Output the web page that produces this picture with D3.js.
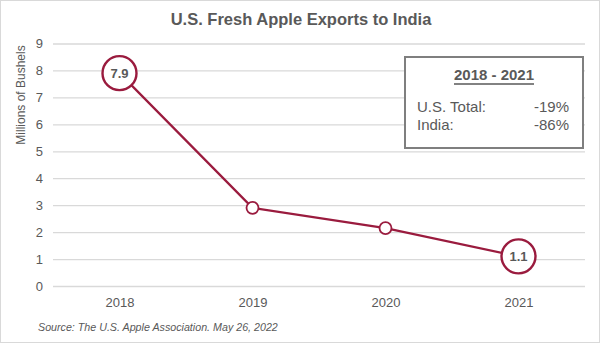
<!DOCTYPE html>
<html><head><meta charset="utf-8">
<script src="https://cdn.jsdelivr.net/npm/d3@7"></script>
<style>body{margin:0;background:#fff;}svg{display:block;font-family:Arial,"Liberation Sans",sans-serif;}</style>
</head><body>
<svg id="c" width="600" height="343"></svg>
<script>
const years = ["2018","2019","2020","2021"];
const exportsIndia = [7.9, 2.9, 2.15, 1.1];
const labelled = [true, false, false, true];
const yTicks = [0,1,2,3,4,5,6,7,8,9];
const boxTitle = "2018 - 2021";
const boxRows = [["U.S. Total:", "-19%"], ["India:", "-86%"]];

const svg = d3.select("#c");
const W = 600, H = 343;
const red = "#9a1b3e", grey = "#595959";
svg.append("rect").attr("x",0.5).attr("y",0.5).attr("width",W-1).attr("height",H-1)
  .attr("fill","#fff").attr("stroke","#d9d9d9");

const x = d3.scalePoint().domain(years).range([53,585]).padding(0.5);
const y = d3.scaleLinear().domain([0,9]).range([286,43.5]);

svg.append("text").attr("x",301).attr("y",25).attr("text-anchor","middle")
  .attr("font-size",16.5).attr("font-weight","bold").attr("fill",grey).text("U.S. Fresh Apple Exports to India");

const gy = svg.append("g").attr("transform","translate(53,0)")
  .call(d3.axisLeft(y).tickValues(yTicks).tickSize(-532).tickFormat(d3.format("d")).tickPadding(10));
gy.select(".domain").remove();
gy.selectAll(".tick line").attr("stroke","#d9d9d9").attr("stroke-width",1.3);
gy.selectAll(".tick text").attr("fill",grey).attr("font-size",13).attr("font-family","Arial,'Liberation Sans',sans-serif");

const gx = svg.append("g").attr("transform","translate(0,286)")
  .call(d3.axisBottom(x).tickSize(0).tickPadding(12));
gx.select(".domain").remove();
gx.selectAll(".tick text").attr("fill",grey).attr("font-size",13).attr("font-family","Arial,'Liberation Sans',sans-serif");

svg.append("text").attr("transform","translate(25,95) rotate(-90)").attr("text-anchor","middle")
  .attr("font-size",12).attr("fill",grey).text("Millions of Bushels");

const data = years.map((yr,i)=>({yr, v:exportsIndia[i], lab:labelled[i]}));
svg.append("path").datum(data).attr("fill","none").attr("stroke",red).attr("stroke-width",2.2)
  .attr("d", d3.line().x(d=>x(d.yr)).y(d=>y(d.v)));
svg.selectAll("circle.pt").data(data).join("circle").attr("class","pt")
  .attr("cx",d=>x(d.yr)).attr("cy",d=>y(d.v)).attr("r",d=>d.lab?17:6)
  .attr("fill","#fff").attr("stroke",red).attr("stroke-width",d=>d.lab?2.4:1.8);
svg.selectAll("text.lab").data(data.filter(d=>d.lab)).join("text").attr("class","lab")
  .attr("x",d=>x(d.yr)).attr("y",d=>y(d.v)+4.5).attr("text-anchor","middle")
  .attr("font-size",13).attr("font-weight","bold").attr("fill",grey).text(d=>d.v.toFixed(1));

const bx = 405, by = 57, bw = 178, bh = 91;
svg.append("rect").attr("x",bx).attr("y",by).attr("width",bw).attr("height",bh)
  .attr("fill","#fff").attr("stroke","#7f7f7f").attr("stroke-width",2);
const tt = svg.append("text").attr("x",bx+bw/2).attr("y",by+23).attr("text-anchor","middle")
  .attr("font-size",15).attr("font-weight","bold").attr("fill",grey).text(boxTitle);
const tw = tt.node().getComputedTextLength();
svg.append("line").attr("x1",bx+bw/2-tw/2).attr("x2",bx+bw/2+tw/2).attr("y1",by+27).attr("y2",by+27)
  .attr("stroke",grey).attr("stroke-width",1.3);
boxRows.forEach((r,i)=>{
  svg.append("text").attr("x",bx+12).attr("y",by+55+i*18).attr("font-size",15).attr("fill",grey).text(r[0]);
  svg.append("text").attr("x",bx+bw-14).attr("y",by+55+i*18).attr("text-anchor","end").attr("font-size",15).attr("fill",grey).text(r[1]);
});

svg.append("text").attr("x",38).attr("y",331).attr("font-size",10.7).attr("font-style","italic")
  .attr("fill",grey).text("Source: The U.S. Apple Association. May 26, 2022");
</script>
</body></html>
